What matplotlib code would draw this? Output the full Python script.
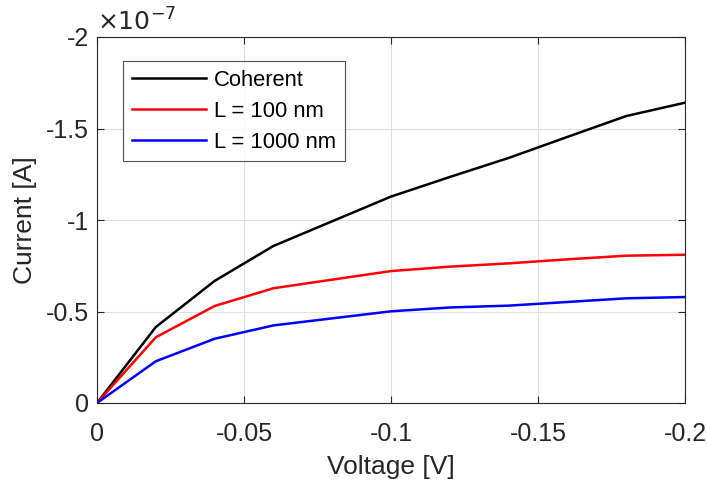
import matplotlib
matplotlib.use("Agg")
import matplotlib.pyplot as plt
from matplotlib.ticker import FuncFormatter

plt.rcParams['font.family'] = ['Liberation Sans', 'DejaVu Sans']
plt.rcParams['axes.unicode_minus'] = False

voltage = [0, -0.02, -0.04, -0.06, -0.10, -0.12, -0.14, -0.16, -0.18, -0.20]
coherent = [0, -0.415e-7, -0.667e-7, -0.858e-7, -1.128e-7, -1.235e-7, -1.339e-7, -1.454e-7, -1.568e-7, -1.641e-7]
l100 = [0, -0.359e-7, -0.530e-7, -0.627e-7, -0.721e-7, -0.745e-7, -0.763e-7, -0.785e-7, -0.805e-7, -0.810e-7]
l1000 = [0, -0.228e-7, -0.351e-7, -0.424e-7, -0.501e-7, -0.522e-7, -0.532e-7, -0.552e-7, -0.572e-7, -0.579e-7]
series_labels = ['Coherent', 'L = 100 nm', 'L = 1000 nm']
xticks = [0, -0.05, -0.1, -0.15, -0.2]
yticks = [0, -0.5e-7, -1e-7, -1.5e-7, -2e-7]

fig = plt.figure(figsize=(7.07, 4.83), dpi=100)
ax = fig.add_axes([97/707, 80/483, 588/707, 366/483])

ax.plot(voltage, coherent, color='black', lw=1.8, label=series_labels[0])
ax.plot(voltage, l100, color='#ff0000', lw=1.8, label=series_labels[1])
ax.plot(voltage, l1000, color='#0000ff', lw=1.8, label=series_labels[2])

ax.set_xlim(0, -0.2)
ax.set_ylim(0, -2e-7)
ax.set_xticks(xticks)
ax.set_yticks(yticks)
ax.xaxis.set_major_formatter(FuncFormatter(lambda v, p: '0' if v == 0 else ('%g' % v)))
ax.yaxis.set_major_formatter(FuncFormatter(lambda v, p: '0' if abs(v) < 1e-12 else ('%g' % round(v / 1e-7, 3))))

gc = '#262626'
for s in ax.spines.values():
    s.set_color(gc)
    s.set_linewidth(0.8)
ax.tick_params(direction='in', top=True, right=True, length=5, width=0.8,
               colors=gc, labelsize=18)
ax.tick_params(axis='x', pad=14)
ax.tick_params(axis='y', pad=6)
ax.grid(True, color='#dfdfdf', lw=0.8)
ax.set_axisbelow(True)

ax.set_xlabel('Voltage [V]', fontsize=19, color=gc, labelpad=6.5)
ax.set_ylabel('Current [A]', fontsize=19, color=gc, labelpad=6)
ax.text(0.0, 1.003, r'$\times10^{-7}$', transform=ax.transAxes, fontsize=18,
        color=gc, ha='left', va='bottom', math_fontfamily='dejavusans')

leg = ax.legend(loc='upper left', bbox_to_anchor=(26/588, 1 - 24/366), fontsize=15.8,
                frameon=True, fancybox=False, borderaxespad=0, handlelength=3.4,
                handletextpad=0.35, labelspacing=0.45, borderpad=0.4)
leg.get_frame().set_edgecolor(gc)
leg.get_frame().set_linewidth(0.8)
for t in leg.get_texts():
    t.set_color('black')

fig.savefig('out.png', dpi=100)
